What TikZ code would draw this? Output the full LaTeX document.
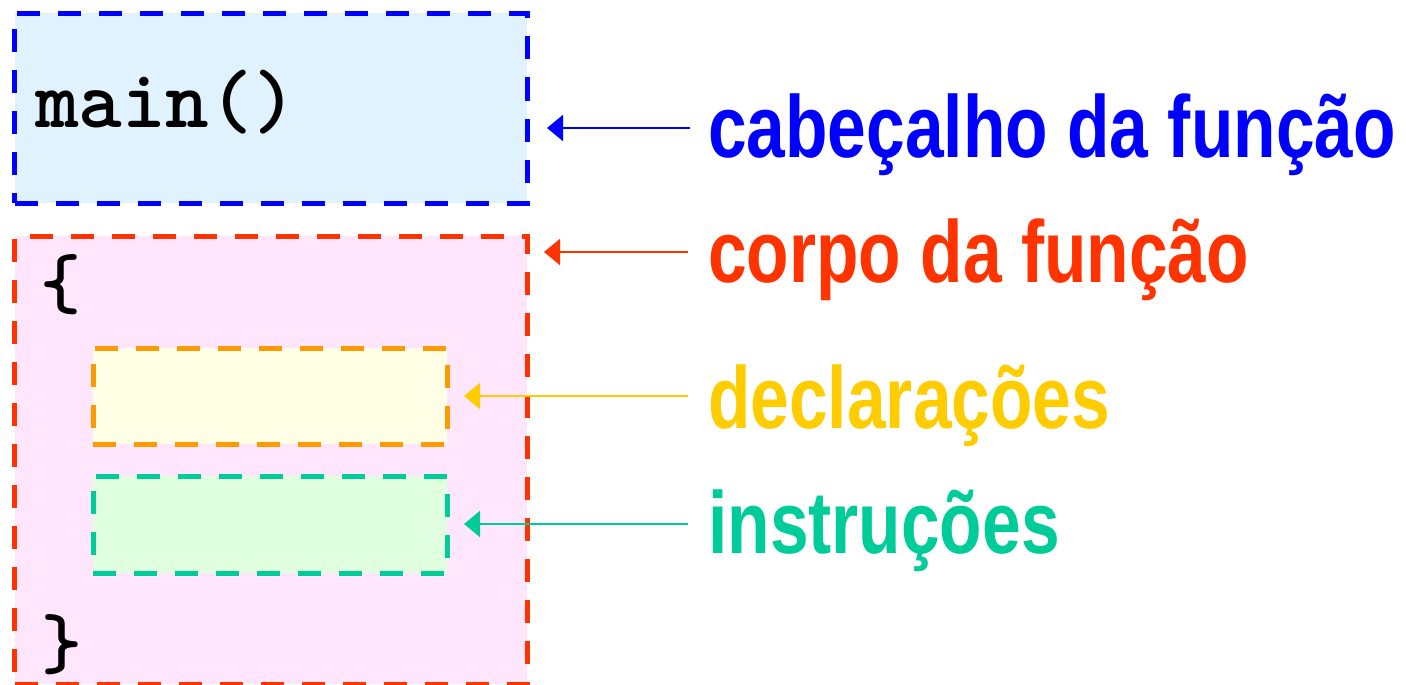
\documentclass[tikz,border=0pt]{standalone}
\usepackage{fontspec}
\usetikzlibrary{arrows.meta}
\newfontfamily\labfont{Liberation Sans}[FakeStretch=0.79]
\definecolor{cblue}{HTML}{0000FF}
\definecolor{cred}{HTML}{FF3300}
\definecolor{corange}{HTML}{FF9900}
\definecolor{cyellow}{HTML}{FFCC00}
\definecolor{cgreen}{HTML}{00CC99}
\definecolor{fblue}{HTML}{DFF2FD}
\definecolor{fpink}{HTML}{FFE6FD}
\definecolor{fyellow}{HTML}{FFFFE5}
\definecolor{fgreen}{HTML}{DFFFDF}
\tikzset{
  dbox/.style={draw, line width=5pt, dash pattern=on 23pt off 18pt, rectangle,
    inner sep=0pt, outer sep=0pt, anchor=north west},
  lab/.style={anchor=base west, inner sep=0pt, font=\labfont\bfseries\fontsize{88}{92}\selectfont},
  code/.style={anchor=base west, inner sep=0pt, font=\ttfamily\bfseries\fontsize{83}{87}\selectfont},
  brace/.style={anchor=base west, inner sep=0pt, font=\ttfamily\bfseries\fontsize{78}{82}\selectfont},
  arr/.style={-{Triangle[length=16pt,width=26pt]}, line width=2pt},
}
\begin{document}
\begin{tikzpicture}[x=1pt,y=-1pt]
\useasboundingbox (0,0) rectangle (1406,685);
% boxes
\node[dbox, draw=cblue, fill=fblue, minimum width=512.5pt, minimum height=189.5pt] (head) at (14.5,13.5) {};
\node[dbox, draw=cred, fill=fpink, minimum width=512.5pt, minimum height=448pt] (body) at (14.5,236) {};
\node[dbox, draw=corange, fill=fyellow, minimum width=354pt, minimum height=96pt] (decl) at (93,348) {};
\node[dbox, draw=cgreen, fill=fgreen, minimum width=354pt, minimum height=97pt] (instr) at (93,476) {};
% code text
\node[code] (mainfn) at (35,128) {main()};
\node[brace] (lbrace) at (40,308) {\{};
\node[brace] (rbrace) at (41,668) {\}};
% labels
\node[lab, text=cblue] (l1) at (708,157) {cabeçalho da função};
\node[lab, text=cred] (l2) at (708,282) {corpo da função};
\node[lab, text=cyellow] (l3) at (708,428) {declarações};
\node[lab, text=cgreen] (l4) at (708,553) {instruções};
% arrows
\coordinate (t1) at (547,128);
\coordinate (t2) at (544,252);
\coordinate (t3) at (464,396);
\coordinate (t4) at (464,524);
\draw[arr, cblue] (l1.west |- t1) ++(-18,0) -- (t1);
\draw[arr, cred] (l2.west |- t2) ++(-20,0) -- (t2);
\draw[arr, cyellow] (l3.west |- t3) ++(-20,0) -- (t3);
\draw[arr, cgreen] (l4.west |- t4) ++(-20,0) -- (t4);
\end{tikzpicture}
\end{document}
